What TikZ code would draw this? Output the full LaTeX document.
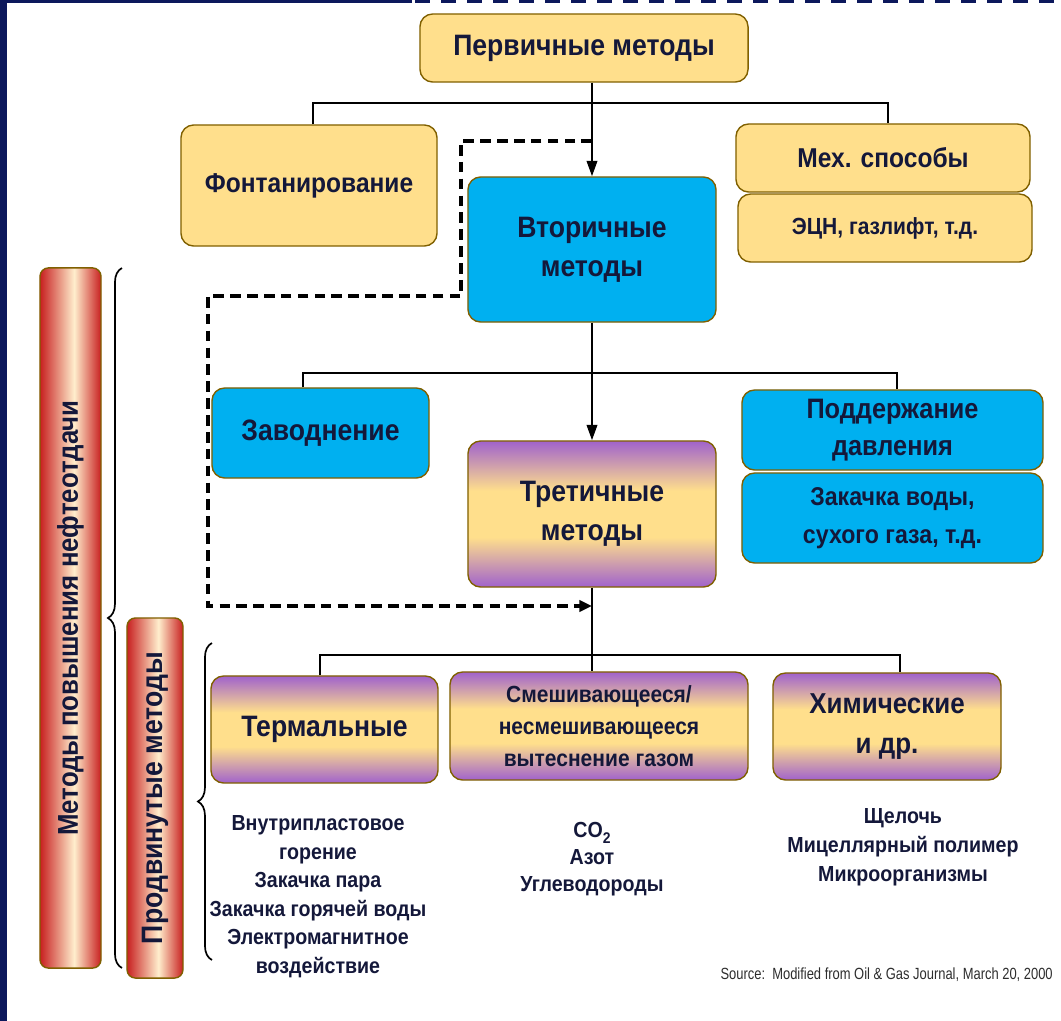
\documentclass[tikz,border=0pt]{standalone}
\usepackage{fontspec}
\setmainfont{Liberation Sans}[FakeStretch=0.9]
\newfontfamily\srcfont{Liberation Sans}[FakeStretch=0.8]
\usetikzlibrary{arrows.meta,positioning,calc,decorations.pathreplacing}
\definecolor{navyC}{RGB}{12,24,92}
\definecolor{txtC}{RGB}{20,24,58}
\definecolor{yelC}{RGB}{255,223,140}
\definecolor{brdC}{RGB}{128,96,0}
\definecolor{bluC}{RGB}{0,176,240}
\definecolor{purC}{RGB}{160,98,204}
\definecolor{redC}{RGB}{200,32,32}
\definecolor{crmC}{RGB}{255,238,205}
\definecolor{srcC}{RGB}{45,45,45}
\pgfdeclareverticalshading{purpyel}{100bp}{color(0bp)=(purC); color(25bp)=(purC); color(42bp)=(yelC); color(58bp)=(yelC); color(75bp)=(purC); color(100bp)=(purC)}
\pgfdeclarehorizontalshading{redbar}{100bp}{color(0bp)=(redC); color(25bp)=(redC); color(53bp)=(crmC); color(75bp)=(redC); color(100bp)=(redC)}

\begin{document}
\begin{tikzpicture}[
  x=0.025cm, y=-0.025cm,
  box/.style={draw=brdC, line width=1pt, rounded corners=9pt, align=center,
              text=txtC, inner sep=2pt, font=\bfseries\fontsize{21}{28}\selectfont},
  ybox/.style={box, fill=yelC},
  bbox/.style={box, fill=bluC},
  gbox/.style={box, shade, shading=purpyel},
  rbar/.style={draw=brdC, line width=1pt, rounded corners=6pt, shade, shading=redbar,
               text=txtC, inner sep=0pt, font=\bfseries\fontsize{20.4}{22}\selectfont},
  line/.style={line width=1.5pt},
  arr/.style={line, -{Triangle[length=11pt,width=7.5pt]}},
  dsh/.style={line width=2.4pt, dash pattern=on 7.5pt off 4.5pt, -{Triangle[length=9pt,width=8pt]}},
  brc/.style={line width=1.2pt, decorate, decoration={brace, amplitude=10pt}},
  lst/.style={align=center, text=txtC, inner sep=0pt},
]
\useasboundingbox (0,0) rectangle (1061,1021);

% ============ frame ============
\fill[navyC] (0,0) rectangle (7,1021);
\draw[navyC, line width=2.2pt] (0,1.5) -- (412,1.5);
\draw[navyC, line width=2.2pt, dash pattern=on 10.5pt off 8pt] (415,1.5) -- (1061,1.5);

% ============ helper coordinates ============
\def\xm{592}   % main trunk
\coordinate (b1l) at (313,103); \coordinate (b1r) at (888,103);
\coordinate (b2l) at (303,373); \coordinate (b2r) at (897,373);
\coordinate (b3l) at (320,655); \coordinate (b3r) at (900,655);

% ===================== level 1 =====================
\node[ybox, minimum width=8.2cm, minimum height=1.7cm] (prim) at (584,48) {Первичные методы};
\node[ybox, minimum width=6.4cm, minimum height=3.025cm, font=\bfseries\fontsize{19.4}{24}\selectfont] (font) at (309,185.5) {Фонтанирование};
\node[ybox, minimum width=7.35cm, minimum height=1.7cm, font=\bfseries\fontsize{19.4}{24}\selectfont] (mech) at (883,158) {Мех. способы};
\node[ybox, minimum width=7.35cm, minimum height=1.7cm, font=\bfseries\fontsize{16.6}{20}\selectfont] (ecn) at (885,228) {ЭЦН, газлифт, т.д.};

% ===================== level 2 =====================
\node[bbox, minimum width=6.2cm, minimum height=3.625cm] (sec) at (\xm,249.5) {Вторичные\\методы};
\node[bbox, minimum width=5.425cm, minimum height=2.25cm] (zav) at (320.5,433) {Заводнение};
\node[bbox, minimum width=7.525cm, minimum height=2cm, font=\bfseries\fontsize{20}{26}\selectfont] (pod) at (892.5,430) {Поддержание\\давления};
\node[bbox, minimum width=7.525cm, minimum height=2.25cm, font=\bfseries\fontsize{18.3}{27}\selectfont] (zak) at (892.5,518) {Закачка воды,\\сухого газа, т.д.};

% ===================== level 3 =====================
\node[gbox, minimum width=6.2cm, minimum height=3.65cm] (ter) at (\xm,514) {Третичные\\методы};
\node[gbox, minimum width=5.675cm, minimum height=2.675cm] (therm) at (324.5,729.5) {Термальные};
\node[gbox, minimum width=7.45cm, minimum height=2.7cm, font=\bfseries\fontsize{16.6}{23}\selectfont] (mix) at (599,726) {Смешивающееся/\\несмешивающееся\\вытеснение газом};
\node[gbox, minimum width=5.7cm, minimum height=2.675cm, font=\bfseries\fontsize{20.5}{28}\selectfont] (chem) at (887,726.5) {Химические\\и др.};

% ---------------- lists ----------------
\node[lst, font=\bfseries\fontsize{15.5}{20.3}\selectfont] (thl) at (318,896.5) {Внутрипластовое\\горение\\Закачка пара\\Закачка горячей воды\\Электромагнитное\\воздействие};
\node[lst, font=\bfseries\fontsize{15.5}{19.2}\selectfont] (mxl) at (592,859) {CO\raisebox{-0.55ex}{\fontsize{11}{11}\selectfont 2}\\Азот\\Углеводороды};
\node[lst, font=\bfseries\fontsize{15.5}{20.6}\selectfont] (chl) at (903,847) {Щелочь\\Мицеллярный полимер\\Микроорганизмы};

% ===================== side bars =====================
\node[rbar, minimum width=1.525cm, minimum height=17.5cm] (eor) at (70.5,618) {\rotatebox{90}{Методы повышения нефтеотдачи}};
\node[rbar, minimum width=1.4cm, minimum height=9cm, font=\bfseries\fontsize{21}{22}\selectfont] (adv) at (155,798) {\rotatebox{90}{Продвинутые методы}};
\draw[brc] (122,968) -- (122,268);
\draw[brc] (212,960) -- (212,643);

% ===================== connectors =====================
\draw[line] (font.north -| b1l) -- (b1l) -- (b1r) -- (mech.north -| b1r);
\draw[arr] (prim.south -| sec.north) -- (sec.north);
\draw[line] (zav.north -| b2l) -- (b2l) -- (b2r) -- (pod.north -| b2r);
\draw[arr] (sec.south) -- (ter.north);
\draw[line] (therm.north -| b3l) -- (b3l) -- (b3r) -- (chem.north -| b3r);
\draw[line] (ter.south) -- (mix.north -| ter.south);

% dashed bypass
\coordinate (d1) at (\xm,141); \coordinate (d2) at (461,141);
\coordinate (d3) at (461,296); \coordinate (d4) at (208,296);
\coordinate (d5) at (208,606); \coordinate (d6) at (\xm,606);
\draw[dsh] (d1) -- (d2) -- (d3) -- (d4) -- (d5) -- (d6);

% ============ source ============
\node[anchor=east, text=srcC, inner sep=0pt, font=\srcfont\fontsize{11.5}{13}\selectfont] (src) at (1053,975) {Source:\ \ Modified from Oil \& Gas Journal, March 20, 2000};

\end{tikzpicture}
\end{document}
